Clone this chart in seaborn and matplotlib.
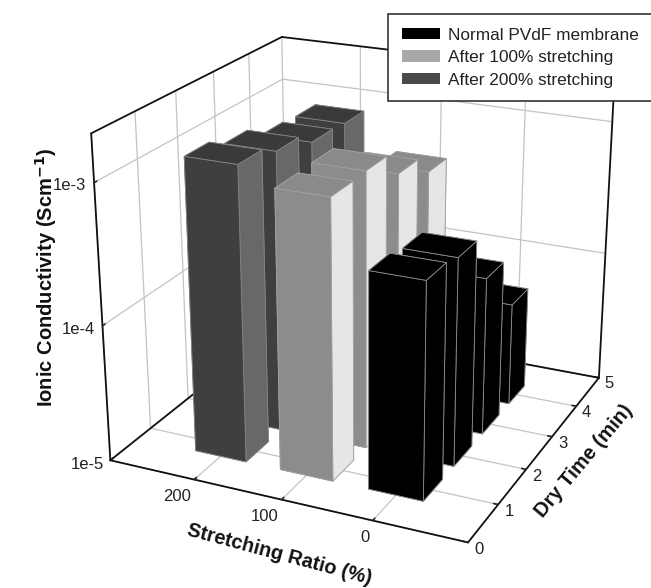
import numpy as np
import seaborn as sns
import matplotlib
matplotlib.use("Agg")
import matplotlib.pyplot as plt
from matplotlib.patches import Patch

stretch = [0, 100, 200]
dry_time = [1, 2, 3, 4]
normal_pvdf = [3.6e-4, 3.3e-4, 1.5e-4, 6.0e-5]
after_100 = [1.02e-3, 1.04e-3, 6.8e-4, 4.8e-4]
after_200 = [1.35e-3, 1.15e-3, 0.93e-3, 0.9e-3]
legend_labels = ["Normal PVdF membrane", "After 100% stretching", "After 200% stretching"]

sns.set_theme(style="white", rc={"grid.color": "#c4c4c4", "grid.linewidth": 0.9})
plt.rcParams["font.family"] = ["Liberation Sans", "DejaVu Sans"]

fig = plt.figure(figsize=(6.51, 5.88), dpi=100)

L, B, S = 49.2, 5.4, 617.1
ax = fig.add_axes([L / 651, B / 588, S / 651, S / 588], projection="3d", computed_zorder=False)
ax.set_proj_type("persp", focal_length=0.545)
ax.view_init(elev=21.76, azim=-65.34)
ax.set_box_aspect((1, 1.011, 0.89))
ax.patch.set_alpha(0)
ax.set_xlim(300, -100)
ax.set_ylim(0, 5)
ax.set_zlim(-5, -2.67)

for axis in (ax.xaxis, ax.yaxis, ax.zaxis):
    axis.set_pane_color((1, 1, 1, 1))
    axis.pane.set_edgecolor("none")
    axis.line.set_color("#111111")
    axis.line.set_linewidth(1.3)
    axis._axinfo["tick"]["inward_factor"] = 0.0
    axis._axinfo["tick"]["outward_factor"] = 0.15
    axis._axinfo["tick"]["color"] = "#222222"

ax.zaxis.set_ticks_position("lower")
ax.set_xticks(stretch)
ax.set_yticks(list(range(6)))
ax.set_zticks([-5, -4, -3])
ax.set_zticklabels(["1e-5", "1e-4", "1e-3"])
ax.tick_params(labelsize=12, labelcolor="#222222")
ax.tick_params(axis="x", pad=-3.5)
ax.tick_params(axis="y", pad=-4)
ax.tick_params(axis="z", pad=2)
for t in ax.get_xticklabels():
    t.set_ha("right")
for t in ax.get_yticklabels():
    t.set_ha("left")
    t.set_va("center")
for t in ax.get_zticklabels():
    t.set_va("center")

box = dict(color="#111111", lw=1.3, zorder=1)
ax.plot([300, 300], [0, 5], [-5, -5], **box)
ax.plot([300, -100], [5, 5], [-5, -5], **box)
ax.plot([-100, -100], [5, 5], [-5, -2.67], **box)
ax.plot([300, 300], [0, 5], [-2.67, -2.67], **box)
ax.plot([300, -100], [5, 5], [-2.67, -2.67], **box)

series = {200: (after_200, "#3f3f3f", "#3a3a3a", "#686868", "#858585"),
          100: (after_100, "#8c8c8c", "#8a8a8a", "#e6e6e6", "#a0a0a0"),
          0: (normal_pvdf, "#000000", "#000000", "#000000", "#8f8f8f")}
dx, dy = 60, 0.62
order = 2
for yi in range(3, -1, -1):
    for st in (200, 100, 0):
        vals, front, top, side, edge = series[st]
        h = np.log10(vals[yi]) + 5
        faces = [front, top, front, front, side, front]
        ax.bar3d(st - dx / 2, dry_time[yi] - dy / 2, -5, dx, dy, h, color=faces, shade=False,
                 edgecolor=edge, linewidth=0.6, zorder=order)
        order += 1

fig.text(46 / 651, 1 - 277 / 588, r"Ionic Conductivity (Scm$\mathbf{^{-1}}$)", rotation=90, fontsize=14.5,
         fontweight="bold", ha="center", va="center", color="#111111")
fig.text(279 / 651, 1 - 554 / 588, "Stretching Ratio (%)", rotation=-15, fontsize=14.3,
         fontweight="bold", ha="center", va="center", rotation_mode="anchor", color="#111111")
fig.text(584 / 651, 1 - 461 / 588, "Dry Time (min)", rotation=50, fontsize=14.5,
         fontweight="bold", ha="center", va="center", rotation_mode="anchor", color="#111111")

handles = [Patch(facecolor=c, edgecolor="none") for c in ("#000000", "#a8a8a8", "#4a4a4a")]
leg = fig.legend(handles, legend_labels, loc="upper left", bbox_to_anchor=(388 / 651, 1 - 14 / 588),
                 borderaxespad=0, fontsize=12.4, frameon=True, fancybox=False, framealpha=1,
                 edgecolor="#333333", handlelength=2.2, handleheight=0.65, labelspacing=0.43,
                 handletextpad=0.5, borderpad=0.8, labelcolor="#222222")
leg.get_frame().set_linewidth(1.2)

fig.savefig("out.png", dpi=100)
